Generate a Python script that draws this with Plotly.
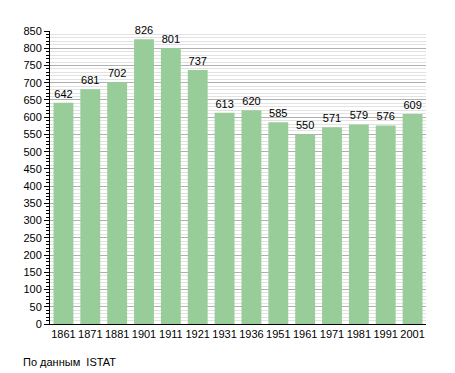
import plotly.graph_objects as go

years = ["1861", "1871", "1881", "1901", "1911", "1921", "1931", "1936", "1951", "1961", "1971", "1981", "1991", "2001"]
population = [642, 681, 702, 826, 801, 737, 613, 620, 585, 550, 571, 579, 576, 609]
source_note = "По данным  ISTAT"

# the page body has an 8px default margin, so the figure is drawn 8px smaller
W, H = 447, 365
L, R, T, B = 42, 29, 23, 49

fig = go.Figure(go.Bar(
    x=years, y=population,
    marker=dict(color="#98CC98", line=dict(width=0)),
    text=[str(v) for v in population], textposition="outside",
    textfont=dict(family="Liberation Sans, Arial", size=11, color="#000"),
    cliponaxis=False,
))

pw = W - L - R
ph = H - T - B
fig.update_layout(
    width=W, height=H,
    margin=dict(l=L, r=R, t=T, b=B),
    paper_bgcolor="white", plot_bgcolor="white",
    bargap=0.26,
    showlegend=False,
    font=dict(family="Liberation Sans, Arial", size=11, color="#000"),
    xaxis=dict(type="category", showline=True, linecolor="#000", linewidth=1,
               ticks="", tickfont=dict(size=11), showgrid=False),
    yaxis=dict(range=[0, 850], dtick=50, showline=True, linecolor="#000", linewidth=1,
               ticks="outside", ticklen=5, tickcolor="#000",
               showgrid=True, gridcolor="#b0b0b0", gridwidth=1,
               minor=dict(dtick=10, showgrid=True, gridcolor="#e2e2e2", ticks="outside",
                          ticklen=3, tickcolor="#000"),
               zeroline=False, tickfont=dict(size=11)),
    annotations=[dict(text=source_note,
                      x=(13 - L) / pw, y=(H - B - 354) / ph,
                      xref="paper", yref="paper",
                      showarrow=False, xanchor="left", yanchor="middle",
                      font=dict(size=11))],
)
fig.write_html("out.html")
